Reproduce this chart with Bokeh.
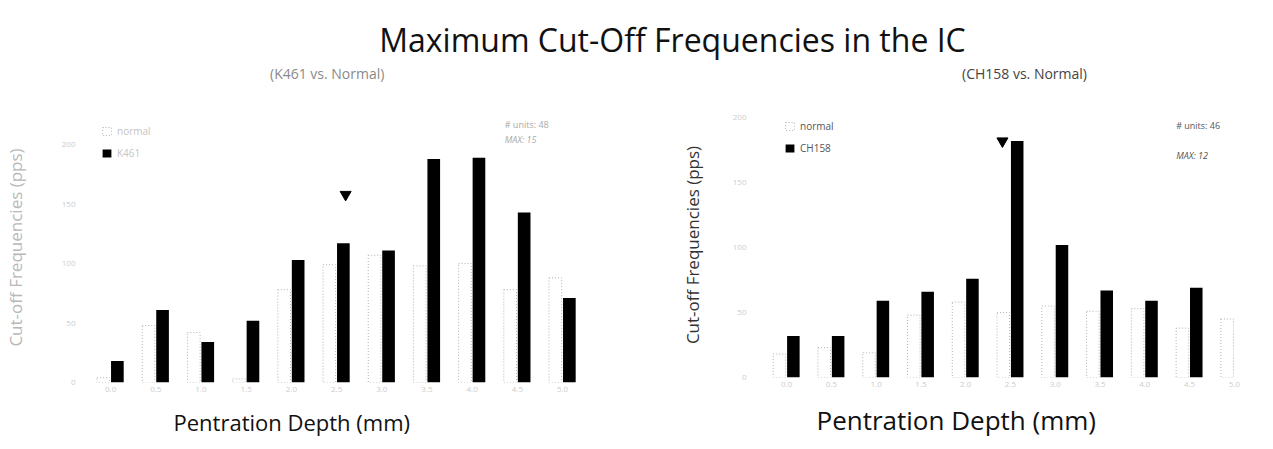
from bokeh.plotting import figure
from bokeh.models import Div, Legend, LegendItem, Label, FixedTicker, Range1d, ColumnDataSource, Title
from bokeh.layouts import column, row
from bokeh.transform import dodge
from bokeh.embed import file_html
from bokeh.resources import INLINE

# ---------------- data ----------------
depth_labels = ["0.0", "0.5", "1.0", "1.5", "2.0", "2.5", "3.0", "3.5", "4.0", "4.5", "5.0"]
positions = list(range(len(depth_labels)))

left_normal = [4, 48, 42, 3, 78, 99, 107, 98, 100, 78, 88]
left_k461 = [18, 61, 34, 52, 103, 117, 111, 188, 189, 143, 71]

right_normal = [18, 23, 19, 48, 58, 50, 55, 51, 53, 38, 45]
right_ch158 = [32, 32, 59, 66, 76, 182, 102, 67, 59, 69, 0]

left_arrow_x = [5.2]
left_arrow_y = [158]
right_arrow_x = [4.82]
right_arrow_y = [182]

left_notes = ["# units: 48", "MAX: 15"]
right_notes = ["# units: 46", "MAX: 12"]

main_title = "Maximum Cut-Off Frequencies in the IC"
left_subtitle = "(K461 vs. Normal)"
right_subtitle = "(CH158 vs. Normal)"

FONT = "Open Sans"


def make_panel(normal, sick, sick_name, notes, arrow_x, arrow_y,
               frame_w, frame_h, min_left, min_top, min_bottom, min_right,
               x_start, x_end, y_end, faint, xlab_offset, xlab_size,
               xlab_standoff, legend_loc, note_xy, ylabel_standoff):
    src = ColumnDataSource(dict(x=positions, normal=normal, sick=sick))
    p = figure(frame_width=frame_w, frame_height=frame_h,
               output_backend="svg", toolbar_location=None,
               x_range=Range1d(x_start, x_end), y_range=Range1d(0, y_end),
               min_border_left=min_left, min_border_top=min_top,
               min_border_bottom=min_bottom, min_border_right=min_right)
    p.outline_line_color = None
    p.grid.visible = False
    p.background_fill_color = "white"
    p.border_fill_color = "white"

    rn = p.vbar(x=dodge("x", -0.16, range=p.x_range), top="normal", width=0.28, source=src,
                fill_color="white", line_color="#b0b0b0", line_dash="1 2", line_width=1)
    rs = p.vbar(x=dodge("x", 0.15, range=p.x_range), top="sick", width=0.28, source=src,
                fill_color="black", line_color=None)
    p.scatter(x=arrow_x, y=arrow_y, marker="inverted_triangle", size=11,
              fill_color="black", line_color="black")

    # x axis (label drawn as a below-title so it can sit left of centre, as in the original)
    p.xaxis.ticker = FixedTicker(ticks=positions)
    p.xaxis.major_label_overrides = {i: lab for i, lab in enumerate(depth_labels)}
    p.xaxis.major_label_standoff = 4
    p.xaxis.major_tick_out = 0
    p.xaxis.major_tick_in = 0
    p.xaxis.major_label_text_font = FONT
    p.xaxis.major_label_text_font_size = "8px"
    p.xaxis.major_label_text_color = "#cccccc"
    p.xaxis.axis_line_color = None
    p.xaxis.major_tick_line_color = None
    p.xaxis.minor_tick_line_color = None
    p.add_layout(Title(text="Pentration Depth (mm)", align="left", offset=xlab_offset,
                       text_font=FONT, text_font_size=xlab_size, text_font_style="normal",
                       text_color="#111111", standoff=xlab_standoff), "below")

    p.yaxis.ticker = FixedTicker(ticks=[0, 50, 100, 150, 200])
    p.yaxis.axis_label = "Cut-off Frequencies (pps)"
    p.yaxis.axis_label_text_font = FONT
    p.yaxis.axis_label_text_font_size = "17px"
    p.yaxis.axis_label_text_font_style = "normal"
    p.yaxis.axis_label_text_color = "#b8b8b8" if faint else "#333333"
    p.yaxis.axis_label_standoff = ylabel_standoff
    p.yaxis.major_label_standoff = 3
    p.yaxis.major_tick_out = 0
    p.yaxis.major_tick_in = 0
    p.yaxis.major_label_text_font = FONT
    p.yaxis.major_label_text_font_size = "8px"
    p.yaxis.major_label_text_color = "#cccccc"
    p.yaxis.axis_line_color = None
    p.yaxis.major_tick_line_color = None
    p.yaxis.minor_tick_line_color = None

    legend = Legend(items=[LegendItem(label="normal", renderers=[rn]),
                           LegendItem(label=sick_name, renderers=[rs])],
                    location=legend_loc, padding=0, margin=0, spacing=8,
                    glyph_height=10, glyph_width=11, label_height=10,
                    label_text_font=FONT, label_text_font_size="10px",
                    label_text_color="#c4c4c4" if faint else "#555555",
                    background_fill_alpha=0, border_line_color=None, label_standoff=5)
    p.add_layout(legend, "center")

    (nx, ny1, ny2) = note_xy
    for txt, yy in zip(notes, [ny1, ny2]):
        p.add_layout(Label(x=nx, y=yy, text=txt, text_font=FONT, text_font_size="9px",
                           text_color="#aaaaaa" if faint else "#555555",
                           text_baseline="middle",
                           text_font_style="normal" if txt.startswith("#") else "italic"))
    return p


p1 = make_panel(left_normal, left_k461, "K461", left_notes,
                left_arrow_x, left_arrow_y,
                frame_w=513, frame_h=270, min_left=74, min_top=30, min_bottom=60, min_right=41,
                x_start=-0.71, x_end=10.64, y_end=227, faint=True,
                xlab_offset=95, xlab_size="22px", xlab_standoff=21,
                legend_loc=(23, 222), note_xy=(8.72, 217, 204), ylabel_standoff=32)
p2 = make_panel(right_normal, right_ch158, "CH158", right_notes,
                right_arrow_x, right_arrow_y,
                frame_w=509, frame_h=265, min_left=117, min_top=30, min_bottom=60, min_right=3,
                x_start=-0.83, x_end=10.54, y_end=204, faint=False,
                xlab_offset=67, xlab_size="26px", xlab_standoff=20,
                legend_loc=(35, 222), note_xy=(8.7, 194, 171), ylabel_standoff=26)

header_html = (
    '<div style="position:relative;width:1257px;height:82px;font-family:\'Open Sans\';">'
    '<div style="position:absolute;left:88px;top:20px;width:1169px;text-align:center;'
    'font-size:32px;line-height:40px;color:#111;">' + main_title + '</div>'
    '<div style="position:absolute;left:270px;top:65px;font-size:14px;line-height:18px;'
    'color:#8a8a8a;white-space:nowrap;">' + left_subtitle + '</div>'
    '<div style="position:absolute;left:962px;top:65px;font-size:14px;line-height:18px;'
    'color:#444;white-space:nowrap;">' + right_subtitle + '</div>'
    '</div>'
)
header = Div(text=header_html, width=1257, height=82, margin=(0, 0, 0, 0))

layout = column(header, row(p1, p2, spacing=0), spacing=0)
open("out.html", "w").write(file_html(layout, INLINE))
